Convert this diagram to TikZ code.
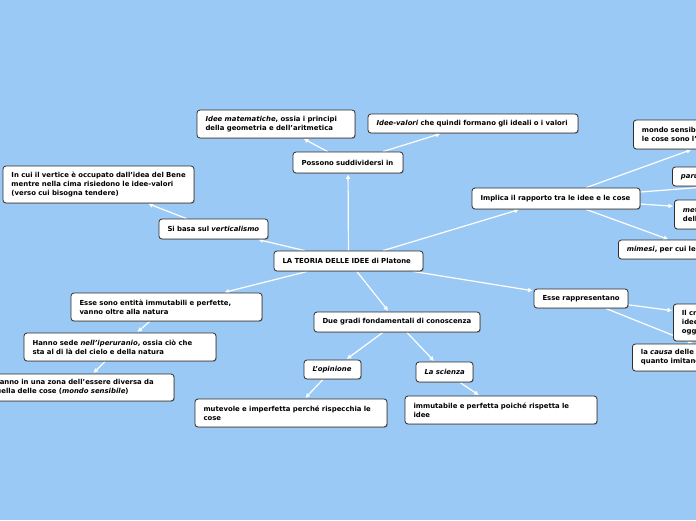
\documentclass[tikz,border=0pt]{standalone}
\usepackage{fontspec}
\setmainfont{DejaVu Sans}
\usetikzlibrary{arrows.meta,shadows}
\definecolor{bgblue}{RGB}{155,201,245}
\definecolor{boxline}{RGB}{45,45,45}
\pgfdeclarelayer{bgl}
\pgfdeclarelayer{edgel}
\pgfsetlayers{bgl,edgel,main}
\tikzset{
  mbox/.style={draw=boxline, line width=0.8pt, fill=white, rounded corners=3pt,
    align=left, inner xsep=8.5pt, inner ysep=1.5pt,
    font=\fontsize{6.9}{9}\selectfont\bfseries,
    drop shadow={shadow xshift=0.9pt, shadow yshift=-0.9pt, opacity=0.45}},
  conn/.style={draw=white, line width=1.2pt, -{Latex[length=4.5pt,width=5pt]}, shorten >=1pt},
}
\begin{document}
\begin{tikzpicture}[x=1pt,y=-1pt]
\begin{pgfonlayer}{bgl}
\path[use as bounding box, fill=bgblue] (0,0) rectangle (696,520);
\end{pgfonlayer}
\clip (0,0) rectangle (696,520);

\node[mbox, text width=132pt, minimum height=20pt] (root) at (348.5,261) {\mbox{LA TEORIA DELLE IDEE di Platone}};
\node[mbox, text width=93pt, minimum height=21pt] (possono) at (348,162.5) {\mbox{Possono suddividersi in}};
\node[mbox, text width=141pt, minimum height=28pt] (ideemat) at (276,124) {\mbox{\textit{Idee matematiche}, ossia i principi}\\\mbox{della geometria e dell'aritmetica}};
\node[mbox, text width=193pt, minimum height=19pt] (ideeval) at (473,123.5) {\mbox{\textit{Idee-valori} che quindi formano gli ideali o i valori}};
\node[mbox, text width=174pt, minimum height=37pt] (incui) at (98.5,184.5) {\mbox{In cui il vertice è occupato dall'idea del Bene}\\\mbox{mentre nella cima risiedono le idee-valori}\\\mbox{(verso cui bisogna tendere)}};
\node[mbox, text width=92pt, minimum height=20pt] (sibasa) at (213.5,229) {\mbox{Si basa sul \textit{verticalismo}}};
\node[mbox, text width=151pt, minimum height=21pt] (implica) at (556,198.5) {\mbox{Implica il rapporto tra le idee e le cose}};
\node[mbox, text width=183pt, minimum height=29pt, anchor=west] (mondo) at (633,134.5) {\mbox{mondo sensibile, ossia il mondo in cui}\\\mbox{le cose sono l'imitazione delle idee}};
\node[mbox, text width=321pt, minimum height=19pt, anchor=west] (paru) at (672,176.5) {\mbox{\textit{parusia}, ossia la presenza delle idee nelle cose}};
\node[mbox, text width=235pt, minimum height=29pt, anchor=west] (met) at (674,214.5) {\mbox{\textit{metessi}, ossia la partecipazione}\\\mbox{delle cose alle idee}};
\node[mbox, text width=139pt, minimum height=19pt, anchor=west] (mimesi) at (618,249.5) {\mbox{\textit{mimesi}, per cui le cose imitano}};
\node[mbox, text width=77pt, minimum height=19pt] (esserapp) at (581,298.5) {\mbox{Esse rappresentano}};
\node[mbox, text width=159pt, minimum height=37pt, anchor=west] (ilcr) at (673,322.5) {\mbox{Il criterio di giudizio}\\\mbox{idee come modello}\\\mbox{oggetti sensibili}};
\node[mbox, text width=175pt, minimum height=27pt, anchor=west] (causa) at (632,357.5) {\mbox{la \textit{causa} delle cose, in}\\\mbox{quanto imitano le idee}};
\node[mbox, text width=174pt, minimum height=28pt] (essesono) at (166.5,307) {\mbox{Esse sono entità immutabili e perfette,}\\\mbox{vanno oltre alla natura}};
\node[mbox, text width=175pt, minimum height=28pt] (hanno) at (120,347) {\mbox{Hanno sede \textit{nell'iperuranio}, ossia ciò che}\\\mbox{sta al di là del cielo e della natura}};
\node[mbox, text width=174pt, minimum height=27pt] (stanno) at (78.5,387.5) {\mbox{Stanno in una zona dell'essere diversa da}\\\mbox{quella delle cose (\textit{mondo sensibile})}};
\node[mbox, text width=149pt, minimum height=20pt] (duegradi) at (397,322) {\mbox{Due gradi fondamentali di conoscenza}};
\node[mbox, text width=40pt, minimum height=19pt] (opinione) at (332.5,369.5) {\mbox{\textit{L'opinione}}};
\node[mbox, text width=40pt, minimum height=20pt] (scienza) at (444.5,372) {\mbox{\textit{La scienza}}};
\node[mbox, text width=175pt, minimum height=28pt] (mutevole) at (291,413) {\mbox{mutevole e imperfetta perché rispecchia le}\\\mbox{cose}};
\node[mbox, text width=175pt, minimum height=28pt] (immutabile) at (501,410) {\mbox{immutabile e perfetta poiché rispetta le}\\\mbox{idee}};

\begin{pgfonlayer}{edgel}
\draw[conn] (root) -- (possono);
\draw[conn] (possono) -- (ideemat);
\draw[conn] (possono) -- (ideeval);
\draw[conn] (root) -- (sibasa);
\draw[conn] (sibasa) -- (incui);
\draw[conn] (root) -- (implica);
\draw[conn] (implica) -- (mondo);
\draw[conn] (implica) -- (paru);
\draw[conn] (implica) -- (met);
\draw[conn] (implica) -- (mimesi);
\draw[conn] (root) -- (esserapp);
\draw[conn] (esserapp) -- (ilcr);
\draw[conn] (esserapp) -- (causa);
\draw[conn] (root) -- (essesono);
\draw[conn] (essesono) -- (hanno);
\draw[conn] (hanno) -- (stanno);
\draw[conn] (root) -- (duegradi);
\draw[conn] (duegradi) -- (opinione);
\draw[conn] (duegradi) -- (scienza);
\draw[conn] (opinione) -- (mutevole);
\draw[conn] (scienza) -- (immutabile);
\end{pgfonlayer}
\end{tikzpicture}
\end{document}
